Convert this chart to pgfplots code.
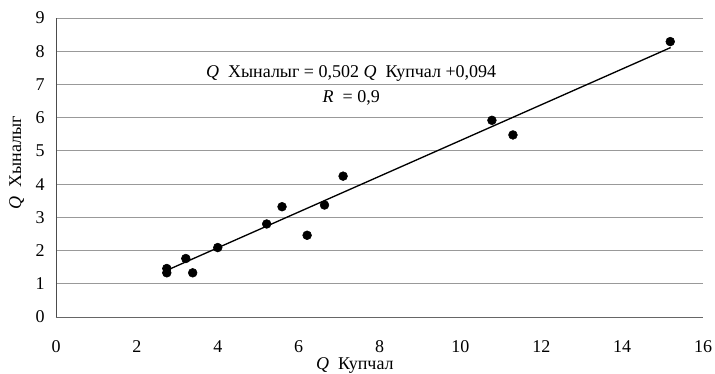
\documentclass[border=0pt]{standalone}
\usepackage{pgfplots}
\pgfplotsset{compat=1.18}
\usepackage{fontspec}
\setmainfont{Liberation Serif}
\begin{document}
\begin{tikzpicture}
\useasboundingbox (0pt,0pt) rectangle (536.25pt,280.5pt);
\begin{axis}[
  at={(42pt,42.75pt)}, anchor=south west,
  scale only axis, width=485.25pt, height=224.25pt,
  xmin=0, xmax=16, ymin=0, ymax=9,
  xtick={0,2,...,16}, ytick={0,1,...,9},
  axis x line*=bottom, axis y line*=left,
  x axis line style={draw=black!60, -}, y axis line style={draw=black!70, -},
  major tick length=0pt,
  ymajorgrids, grid style={draw=black!40, line width=0.6pt},
  font=\fontsize{13.5}{15}\selectfont,
  /pgf/number format/assume math mode=true,
  xticklabel style={yshift=-14pt},
  yticklabel style={xshift=-5pt},
  xlabel={\textit{Q}\enspace Купчал},
  xlabel style={at={(axis description cs:0.462,-0.162)}, anchor=center},
  ylabel={\textit{Q}\enspace Хыналыг},
  ylabel style={at={(axis description cs:-0.061,0.515)}, anchor=center, rotate=0},
  clip=false,
]
\addplot[only marks, mark=*, mark size=3.3pt, color=black] coordinates {
(2.74,1.46) (2.74,1.33) (3.21,1.76) (3.38,1.33) (4.00,2.09) (5.21,2.80)
(5.59,3.32) (6.21,2.46) (6.64,3.37) (7.10,4.24) (10.78,5.92) (11.30,5.48) (15.19,8.29)
};
\addplot[black, line width=1pt] coordinates {(2.75,1.41) (15.2,8.11)};
\node[anchor=center, font=\fontsize{13.5}{15}\selectfont] at (axis cs:7.3,7.34) {\textit{Q}\enspace Хыналыг = 0,502 \textit{Q}\enspace Купчал +0,094};
\node[anchor=center, font=\fontsize{13.5}{15}\selectfont] at (axis cs:7.3,6.6) {\textit{R}\enspace = 0,9};
\end{axis}
\end{tikzpicture}
\end{document}
